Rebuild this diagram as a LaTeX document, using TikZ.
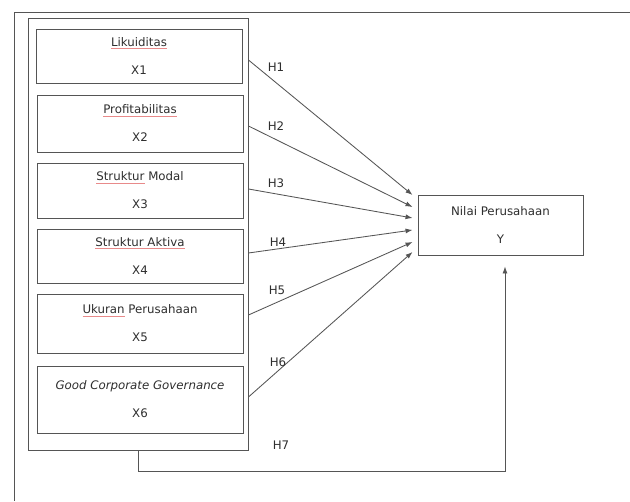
\documentclass[tikz,border=0pt]{standalone}
\usepackage{fontspec}
\setmainfont{DejaVu Sans}
\usetikzlibrary{arrows.meta}
\definecolor{ln}{HTML}{555555}
\definecolor{tx}{HTML}{2E2E2E}
\definecolor{sq}{HTML}{E88A8A}
\newsavebox\splbox
\newcommand\spl[1]{\leavevmode\sbox\splbox{#1}\rlap{\textcolor{sq}{\rule[-2.5pt]{\wd\splbox}{0.6pt}}}\usebox\splbox}
\begin{document}
\begin{tikzpicture}[x=1pt,y=-1pt,
  every node/.style={text=tx, font=\fontsize{11.8}{28}\selectfont},
  varbox/.style={draw=ln, line width=0.95pt, minimum width=206pt, align=center, inner sep=0pt},
  conn/.style={draw=ln, line width=0.85pt, -{Latex[length=7pt,width=5pt]}},
  hlab/.style={inner sep=1pt}]
\useasboundingbox (0,0) rectangle (630,502);
\fill[white] (0,0) rectangle (630,502);
% outer frame
\draw[ln, line width=0.95pt] (14,501) -- (14,12) -- (630,12);
% container
\node[draw=ln, line width=0.95pt, minimum width=220pt, minimum height=432pt, inner sep=0pt] (grp) at (138,234) {};
% variable boxes
\node[varbox, minimum height=54pt] (x1) at (139,56) {\spl{Likuiditas}\\X1};
\node[varbox, minimum height=57pt] (x2) at (140,123.5) {\spl{Profitabilitas}\\X2};
\node[varbox, minimum height=55pt] (x3) at (140,190.5) {\spl{Struktur} Modal\\X3};
\node[varbox, minimum height=54pt] (x4) at (140,256) {\spl{Struktur Aktiva}\\X4};
\node[varbox, minimum height=59pt] (x5) at (140,323.5) {\spl{Ukuran} Perusahaan\\X5};
\node[varbox, minimum height=67pt] (x6) at (140,399.5) {\textit{Good Corporate Governance}\\X6};
% dependent
\node[draw=ln, line width=0.95pt, minimum width=165pt, minimum height=60pt, align=center, inner sep=0pt] (y) at (500.5,225) {Nilai Perusahaan\\Y};
\coordinate (yin) at ([xshift=-5pt]y.west);
% arrows
\draw[conn] (grp.east |- 0,60) -- (yin |- 0,195);
\draw[conn] (grp.east |- 0,126) -- (yin |- 0,207);
\draw[conn] (grp.east |- 0,189) -- (yin |- 0,218);
\draw[conn] (grp.east |- 0,253) -- (yin |- 0,230);
\draw[conn] (grp.east |- 0,315) -- (yin |- 0,242);
\draw[conn] (grp.east |- 0,397) -- (yin |- 0,252);
\draw[conn] (grp.south) -- ++(0,21) -| ([xshift=4.5pt,yshift=-11pt]y.south);
% labels
\node[hlab] (h1) at (276,67) {H1};
\node[hlab] (h2) at (276,126) {H2};
\node[hlab] (h3) at (276,183) {H3};
\node[hlab] (h4) at (278,242) {H4};
\node[hlab] (h5) at (277,290) {H5};
\node[hlab] (h6) at (278,362) {H6};
\node[hlab] (h7) at (281,445) {H7};
\end{tikzpicture}
\end{document}
